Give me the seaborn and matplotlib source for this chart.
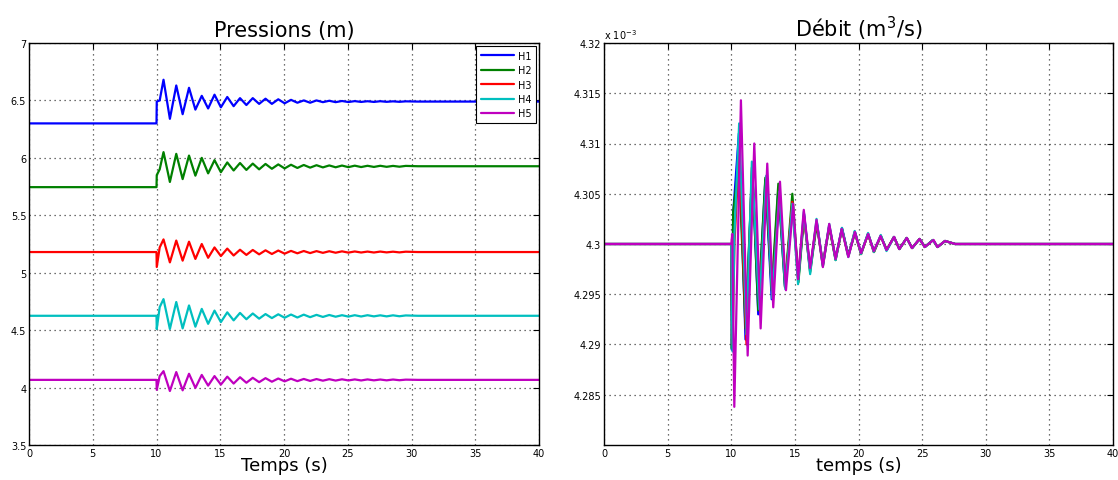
import numpy as np
import pandas as pd
import matplotlib
matplotlib.use("Agg")
import matplotlib.pyplot as plt
import seaborn as sns
from matplotlib.ticker import FuncFormatter

# ---------------- data ----------------
# Pressions: shared time grid (step at 10 s, then peaks / troughs)
t_h = [0, 10.0, 10.02, 10.25,
       10.55, 11.05, 11.55, 12.05, 12.55, 13.05, 13.55, 14.05, 14.55, 15.05,
       15.55, 16.05, 16.55, 17.05, 17.55, 18.05, 18.55, 19.05, 19.55, 20.05,
       20.55, 21.05, 21.55, 22.05, 22.55, 23.05, 23.55, 24.05, 24.55,
       25.05, 25.55, 26.05, 26.55, 27.05, 27.55, 28.05, 28.55, 29.05, 29.55,
       30.5, 40]

h1 = [6.30, 6.30, 6.49, 6.50,
      6.68, 6.34, 6.63, 6.38, 6.61, 6.42, 6.54, 6.43, 6.55, 6.44,
      6.53, 6.45, 6.52, 6.46, 6.52, 6.47, 6.515, 6.47, 6.51, 6.475,
      6.505, 6.48, 6.50, 6.48, 6.50, 6.485, 6.497, 6.485, 6.495,
      6.486, 6.494, 6.487, 6.493, 6.487, 6.493, 6.488, 6.492, 6.488, 6.492,
      6.49, 6.49]
h2 = [5.745, 5.745, 5.85, 5.90,
      6.05, 5.79, 6.035, 5.815, 6.02, 5.845, 6.00, 5.865, 5.98, 5.875,
      5.96, 5.89, 5.955, 5.895, 5.95, 5.90, 5.947, 5.905, 5.943, 5.908,
      5.94, 5.912, 5.938, 5.915, 5.936, 5.917, 5.934, 5.918, 5.933,
      5.919, 5.932, 5.92, 5.931, 5.921, 5.931, 5.922, 5.93, 5.923, 5.93,
      5.927, 5.927]
h3 = [5.18, 5.18, 5.05, 5.22,
      5.29, 5.09, 5.28, 5.105, 5.27, 5.12, 5.25, 5.13, 5.22, 5.145,
      5.21, 5.15, 5.20, 5.155, 5.198, 5.16, 5.195, 5.163, 5.193, 5.166,
      5.19, 5.169, 5.189, 5.171, 5.188, 5.173, 5.187, 5.174, 5.186,
      5.175, 5.185, 5.176, 5.184, 5.176, 5.184, 5.177, 5.183, 5.177, 5.183,
      5.18, 5.18]
h4 = [4.625, 4.625, 4.51, 4.70,
      4.77, 4.51, 4.745, 4.515, 4.715, 4.53, 4.685, 4.555, 4.67, 4.57,
      4.655, 4.585, 4.65, 4.595, 4.645, 4.60, 4.64, 4.605, 4.638, 4.608,
      4.636, 4.61, 4.635, 4.613, 4.633, 4.615, 4.632, 4.617, 4.63,
      4.618, 4.63, 4.619, 4.63, 4.62, 4.629, 4.62, 4.629, 4.621, 4.628,
      4.625, 4.625]
h5 = [4.067, 4.067, 3.98, 4.10,
      4.143, 3.97, 4.135, 3.976, 4.12, 3.997, 4.11, 4.017, 4.10, 4.026,
      4.095, 4.035, 4.09, 4.042, 4.085, 4.047, 4.082, 4.051, 4.079, 4.054,
      4.077, 4.056, 4.075, 4.058, 4.074, 4.06, 4.073, 4.061, 4.072,
      4.062, 4.071, 4.062, 4.071, 4.063, 4.07, 4.063, 4.07, 4.064, 4.069,
      4.067, 4.067]

# Debit (x 1e-3 m3/s): three time grids with slightly different phases
t_qa = [0, 10.0, 10.05, 10.15, 10.6, 11.12, 11.65, 12.12, 12.68, 13.18,
        13.7, 14.22, 14.8, 15.28, 15.72, 16.2, 16.72, 17.2, 17.7, 18.2,
        18.7, 19.2, 19.72, 20.2, 20.75, 21.22, 21.75, 22.22, 22.78, 23.22,
        23.78, 24.22, 24.8, 25.22, 25.85, 26.22, 26.8, 27.6, 40]
t_qb = [0, 10.0, 10.1, 10.25, 10.62, 11.2, 11.62, 12.2, 12.75, 13.22,
        13.78, 14.25, 14.8, 15.25, 15.7, 16.2, 16.7, 17.2, 17.7, 18.2,
        18.7, 19.2, 19.7, 20.2, 20.75, 21.2, 21.75, 22.2, 22.8, 23.2,
        23.8, 24.2, 24.8, 25.2, 25.85, 26.2, 26.8, 27.6, 40]
t_qc = [0, 10.0, 10.08, 10.24, 10.76, 11.29, 11.81, 12.31, 12.83, 13.3,
        13.83, 14.3, 14.87, 15.25, 15.7, 16.2, 16.7, 17.2, 17.7, 18.2,
        18.68, 19.2, 19.72, 20.2, 20.76, 21.2, 21.73, 22.2, 22.8, 23.2,
        23.8, 24.2, 24.8, 25.2, 25.9, 26.2, 26.8, 27.6, 40]

q1 = [4.300, 4.300, 4.2895, 4.3030, 4.3110, 4.2905, 4.3078, 4.2930, 4.3064,
      4.2945, 4.3055, 4.2958, 4.3038, 4.2966, 4.3030, 4.2975, 4.3022, 4.2980,
      4.3018, 4.2986, 4.3016, 4.2989, 4.3012, 4.2991, 4.3010, 4.2993, 4.3008,
      4.2994, 4.3007, 4.2995, 4.3006, 4.2996, 4.3005, 4.2997, 4.3004, 4.2997,
      4.3003, 4.3000, 4.3000]
q2 = [4.300, 4.300, 4.2896, 4.3032, 4.3080, 4.2916, 4.3074, 4.2934, 4.3066,
      4.2954, 4.3060, 4.2957, 4.3050, 4.2962, 4.3028, 4.2972, 4.3020, 4.2978,
      4.3017, 4.2984, 4.3015, 4.2988, 4.3011, 4.2990, 4.3010, 4.2992, 4.3008,
      4.2994, 4.3007, 4.2995, 4.3006, 4.2996, 4.3005, 4.2997, 4.3004, 4.2997,
      4.3003, 4.3000, 4.3000]
q3 = [4.300, 4.300, 4.2900, 4.3000, 4.3092, 4.2900, 4.3076, 4.2943, 4.3060,
      4.2950, 4.3050, 4.2960, 4.3042, 4.2965, 4.3028, 4.2974, 4.3022, 4.2980,
      4.3018, 4.2985, 4.3015, 4.2988, 4.3012, 4.2990, 4.3010, 4.2992, 4.3008,
      4.2994, 4.3007, 4.2995, 4.3006, 4.2996, 4.3005, 4.2997, 4.3004, 4.2997,
      4.3003, 4.3000, 4.3000]
q4 = [4.300, 4.300, 4.2893, 4.3010, 4.3120, 4.2910, 4.3082, 4.2935, 4.3068,
      4.2946, 4.3052, 4.2955, 4.3040, 4.2960, 4.3032, 4.2970, 4.3025, 4.2978,
      4.3020, 4.2984, 4.3016, 4.2987, 4.3013, 4.2990, 4.3011, 4.2992, 4.3009,
      4.2993, 4.3007, 4.2995, 4.3006, 4.2996, 4.3005, 4.2997, 4.3004, 4.2997,
      4.3003, 4.3000, 4.3000]
q5 = [4.300, 4.300, 4.3010, 4.2838, 4.3143, 4.2889, 4.3100, 4.2916, 4.3080,
      4.2937, 4.3062, 4.2954, 4.3040, 4.2965, 4.3034, 4.2976, 4.3024, 4.2977,
      4.3020, 4.2985, 4.3015, 4.2987, 4.3012, 4.2991, 4.3010, 4.2993, 4.3008,
      4.2994, 4.3007, 4.2995, 4.3006, 4.2996, 4.3005, 4.2997, 4.3004, 4.2997,
      4.3003, 4.3000, 4.3000]

names = ['H1', 'H2', 'H3', 'H4', 'H5']
colors = ['#0000ff', '#008000', '#ff0000', '#00bfbf', '#bf00bf']

x_ticks = [0, 5, 10, 15, 20, 25, 30, 35, 40]
p_ticks = [3.5, 4, 4.5, 5, 5.5, 6, 6.5, 7]
q_ticks = [4.285, 4.29, 4.295, 4.3, 4.305, 4.31, 4.315, 4.32]

# ---------------- build long tables ----------------
pressure = pd.concat([pd.DataFrame({'t': t_h, 'val': v, 'serie': n})
                      for n, v in zip(names, [h1, h2, h3, h4, h5])])
debit = pd.concat([pd.DataFrame({'t': t, 'val': v, 'serie': n})
                   for n, t, v in zip(names, [t_qa, t_qa, t_qb, t_qb, t_qc],
                                      [q1, q2, q3, q4, q5])])

sns.set_style("white")
plt.rcParams['font.family'] = ['DejaVu Sans']
plt.rcParams['text.color'] = 'black'
plt.rcParams['axes.labelcolor'] = 'black'
plt.rcParams['xtick.color'] = 'black'
plt.rcParams['ytick.color'] = 'black'

fig = plt.figure(figsize=(11.18, 4.81), dpi=100)
ax1 = fig.add_axes([29 / 1118, 35 / 481, 510 / 1118, 402 / 481])
ax2 = fig.add_axes([604 / 1118, 35 / 481, 509 / 1118, 402 / 481])

pal = dict(zip(names, colors))
sns.lineplot(data=pressure, x='t', y='val', hue='serie', palette=pal,
             sort=False, estimator=None, lw=1.6, ax=ax1)
sns.lineplot(data=debit, x='t', y='val', hue='serie', palette=pal,
             sort=False, estimator=None, lw=1.6, ax=ax2, legend=False)

fmt = FuncFormatter(lambda v, p: f'{v:g}')
for ax in (ax1, ax2):
    ax.set_xlim(0, 40)
    ax.set_xticks(x_ticks)
    ax.xaxis.set_major_formatter(fmt)
    ax.yaxis.set_major_formatter(fmt)
    ax.grid(True, linestyle=(0, (1, 3)), color='#404040', linewidth=0.9)
    ax.tick_params(direction='in', top=True, right=True, length=4,
                   labelsize=7, pad=2, color='black', labelcolor='black')
    for s in ax.spines.values():
        s.set_color('black')
        s.set_linewidth(1.0)

ax1.set_ylim(3.5, 7)
ax1.set_yticks(p_ticks)
ax2.set_ylim(4.28, 4.32)
ax2.set_yticks(q_ticks)

ax1.set_title('Pressions (m)', fontsize=15, pad=5, color='black')
ax2.set_title('Débit (m$^3$/s)', fontsize=15, pad=5, color='black')
ax1.set_xlabel('Temps (s)', fontsize=13, labelpad=-1)
ax2.set_xlabel('temps (s)', fontsize=13, labelpad=-1)
ax1.set_ylabel('')
ax2.set_ylabel('')
ax2.text(0.0, 1.005, r'x 10$^{-3}$', transform=ax2.transAxes,
         fontsize=7, ha='left', va='bottom')

handles, labels = ax1.get_legend_handles_labels()
leg = ax1.legend(handles, labels, loc='upper right', fontsize=7,
                 handlelength=3.4, labelspacing=0.45, borderaxespad=0.3,
                 fancybox=False, framealpha=1, edgecolor='black',
                 borderpad=0.5, handletextpad=0.4)
leg.get_frame().set_linewidth(0.8)

fig.savefig('out.png', dpi=100)
